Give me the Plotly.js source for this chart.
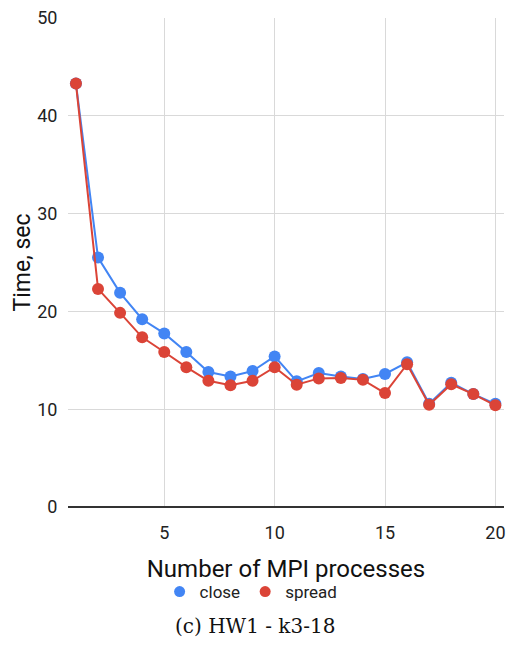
<!DOCTYPE html>
<html>
<head>
<meta charset="utf-8">
<script src="https://cdn.plot.ly/plotly-3.0.1.min.js"></script>
<style>html,body{margin:0;padding:0;background:#fff;}#chart{width:508px;height:646px;}</style>
</head>
<body>
<div id="chart"></div>
<script>
const processes = [1,2,3,4,5,6,7,8,9,10,11,12,13,14,15,16,17,18,19,20];
const closeTimes = [43.3,25.5,21.9,19.2,17.75,15.85,13.8,13.35,13.9,15.4,12.85,13.7,13.35,13.1,13.6,14.8,10.55,12.7,11.55,10.55];
const spreadTimes = [43.3,22.3,19.85,17.35,15.85,14.3,12.9,12.45,12.9,14.3,12.5,13.15,13.2,13.0,11.65,14.6,10.45,12.55,11.55,10.4];
const xTicks = [5,10,15,20];
const yTicks = [0,10,20,30,40,50];
const seriesNames = ["close","spread"];
const caption = "(c) HW1 - k3-18";

const blue = "#4285F4", red = "#DB4437";
const traces = [
  {x: processes, y: closeTimes, name: seriesNames[0], mode: "lines+markers",
   line: {color: blue, width: 2}, marker: {color: blue, size: 12}, showlegend: false},
  {x: processes, y: spreadTimes, name: seriesNames[1], mode: "lines+markers",
   line: {color: red, width: 2}, marker: {color: red, size: 12}, showlegend: false},
  {x: [null], y: [null], name: seriesNames[0], mode: "markers", marker: {color: blue, size: 11}},
  {x: [null], y: [null], name: seriesNames[1], mode: "markers", marker: {color: red, size: 11}}
];
const layout = {
  width: 508, height: 646,
  margin: {l: 68, r: 4, t: 18, b: 139},
  paper_bgcolor: "#fff", plot_bgcolor: "#fff",
  font: {family: "Roboto, Arial, sans-serif", color: "#222"},
  xaxis: {
    range: [0.64, 20.39], tickvals: xTicks, ticktext: xTicks.map(String),
    showgrid: true, gridcolor: "#d9d9d9", gridwidth: 1, zeroline: false,
    showline: false, ticks: "", ticklabelstandoff: 13, tickfont: {size: 18, color: "#222"},
    title: {text: "Number of MPI processes", font: {size: 24, color: "#111"}, standoff: 18}
  },
  yaxis: {
    range: [0, 50], tickvals: yTicks, ticktext: yTicks.map(String),
    showgrid: true, gridcolor: "#d9d9d9", gridwidth: 1,
    zeroline: true, zerolinecolor: "#333", zerolinewidth: 1.5,
    ticks: "outside", ticklen: 6, tickcolor: "rgba(0,0,0,0)", tickfont: {size: 18, color: "#222"},
    title: {text: "Time, sec", font: {size: 23, color: "#111"}, standoff: 0}
  },
  legend: {orientation: "h", x: 0.42, xanchor: "center", y: -0.137, yanchor: "top",
           font: {size: 17, color: "#222"}, itemwidth: 30, tracegroupgap: 0},
  annotations: [{text: caption, xref: "paper", yref: "paper", x: 0.43, xanchor: "center",
                 y: -0.214, yanchor: "top", showarrow: false,
                 font: {family: "DejaVu Serif, Liberation Serif, serif", size: 20, color: "#111"}}]
};
Plotly.newPlot("chart", traces, layout, {staticPlot: true, displayModeBar: false});
</script>
</body>
</html>
